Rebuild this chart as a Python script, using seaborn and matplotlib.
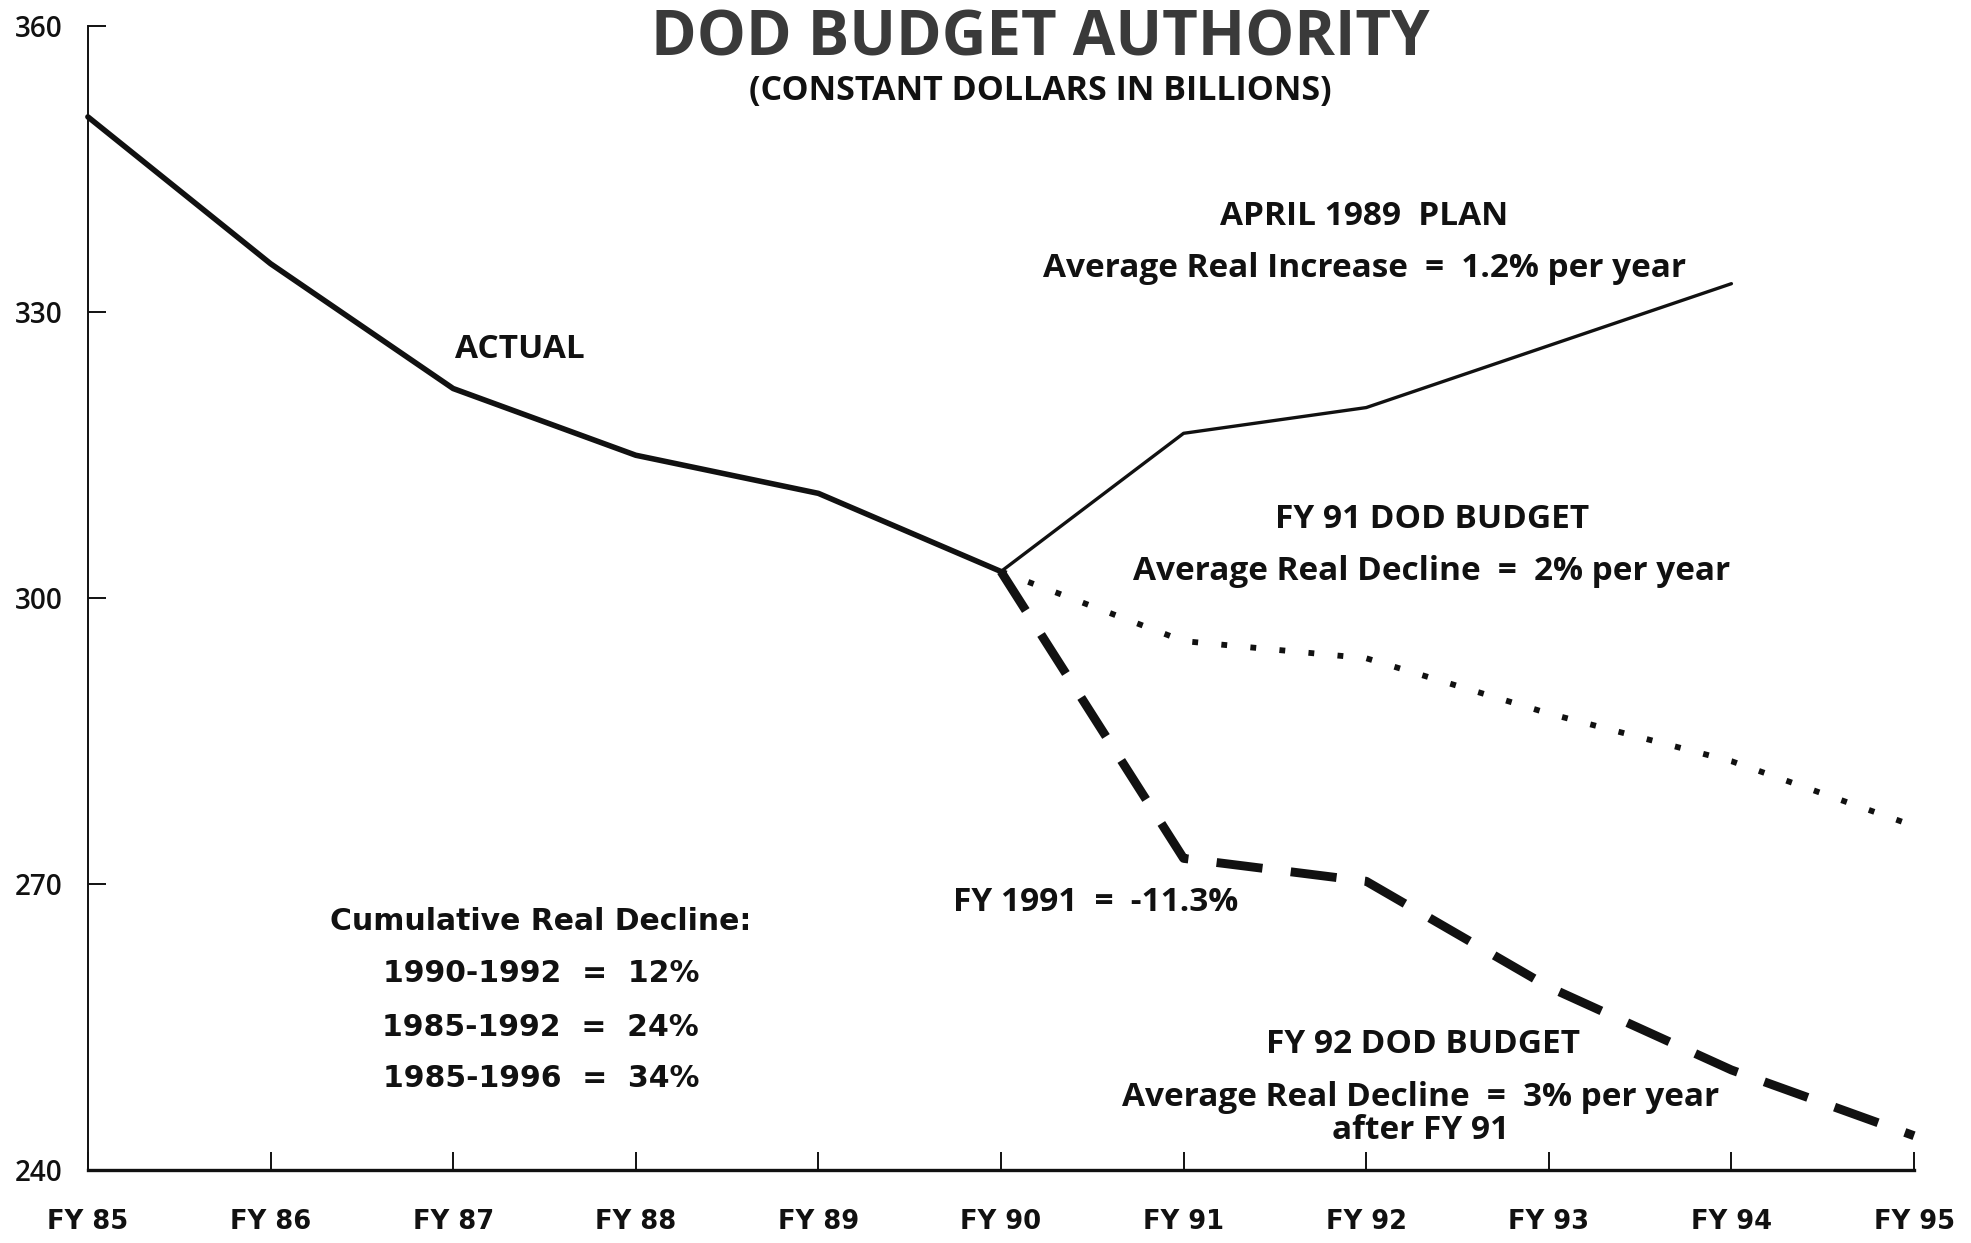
import seaborn as sns
import pandas as pd
import numpy as np
import matplotlib.pyplot as plt

# fiscal years on the x axis
years = [85, 86, 87, 88, 89, 90, 91, 92, 93, 94, 95]
year_labels = ['FY 85', 'FY 86', 'FY 87', 'FY 88', 'FY 89', 'FY 90',
               'FY 91', 'FY 92', 'FY 93', 'FY 94', 'FY 95']
y_ticks = [240, 270, 300, 330, 360]

# budget authority, constant dollars in billions
actual_years = [85, 86, 87, 88, 89, 90]
actual = [350.5, 335.1, 322.0, 315.0, 311.0, 302.8]
plan_years = [90, 91, 92, 93, 94]
plan_1989 = [302.8, 317.3, 320.0, 326.5, 333.0]
budget_years = [90, 91, 92, 93, 94, 95]
fy91_budget = [302.8, 295.5, 293.7, 287.9, 282.9, 276.1]
fy92_budget = [302.8, 272.7, 270.3, 259.2, 250.5, 243.6]

sns.set_style('ticks')
plt.rcParams['font.family'] = ['Open Sans', 'DejaVu Sans']

fig = plt.figure(figsize=(19.71, 12.43), dpi=100)
ax = fig.add_axes([0.0446, 0.0587, 0.9265, 0.9201])

ink = '#111111'
sns.lineplot(x=actual_years, y=actual, color=ink, linewidth=4.0, ax=ax, clip_on=False)
sns.lineplot(x=plan_years, y=plan_1989, color=ink, linewidth=2.4, ax=ax, clip_on=False)
sns.lineplot(x=budget_years, y=fy91_budget, color=ink, linewidth=4.2,
             linestyle=(0, (1.0, 4.0)), ax=ax, clip_on=False)
sns.lineplot(x=budget_years, y=fy92_budget, color=ink, linewidth=6.4,
             linestyle=(0, (5.2, 3.2)), ax=ax, clip_on=False)

ax.set_xlim(85, 95)
ax.set_ylim(240, 360)
ax.set_xticks(years)
ax.set_xticklabels(year_labels)
ax.set_yticks(y_ticks)
ax.set_xlabel('')
ax.set_ylabel('')
sns.despine(ax=ax)
ax.spines['left'].set_linewidth(1.4)
ax.spines['bottom'].set_linewidth(2.4)
ax.spines['left'].set_color(ink)
ax.spines['bottom'].set_color(ink)
ax.tick_params(axis='both', direction='in', length=13, width=1.4, colors=ink)
ax.tick_params(axis='y', pad=18)
ax.tick_params(axis='x', pad=28)
for lab in ax.get_xticklabels():
    lab.set_fontfamily('DejaVu Sans')
    lab.set_fontweight('bold')
    lab.set_fontsize(18.5)
for lab in ax.get_yticklabels():
    lab.set_fontfamily('Open Sans')
    lab.set_fontweight('semibold')
    lab.set_fontsize(20)

# title
fig.text(0.528, 0.969, 'DOD BUDGET AUTHORITY', ha='center', va='center',
         fontsize=44.5, fontweight='bold', color='#3a3a3a')
fig.text(0.528, 0.927, '(CONSTANT DOLLARS IN BILLIONS)', ha='center', va='center',
         fontsize=24.5, fontweight='bold', color=ink)

lab_kw = dict(fontsize=24, fontweight='bold', color=ink, va='center')
ax.text(87.01, 326.1, 'ACTUAL', ha='left', **lab_kw)
ax.text(91.99, 340.1, 'APRIL 1989  PLAN', ha='center', **lab_kw)
ax.text(91.99, 334.55, 'Average Real Increase  =  1.2% per year', ha='center', **lab_kw)
ax.text(92.36, 308.3, 'FY 91 DOD BUDGET', ha='center', **lab_kw)
ax.text(92.36, 302.8, 'Average Real Decline  =  2% per year', ha='center', **lab_kw)
ax.text(89.74, 268.1, 'FY 1991  =  -11.3%', ha='left', **lab_kw)
ax.text(92.31, 253.2, 'FY 92 DOD BUDGET', ha='center', **lab_kw)
ax.text(92.30, 247.6, 'Average Real Decline  =  3% per year', ha='center', **lab_kw)
ax.text(92.30, 244.1, 'after FY 91', ha='center', **lab_kw)

cum_kw = dict(fontsize=21.5, fontweight='bold', color=ink, va='center', ha='center',
              family='DejaVu Sans')
ax.text(87.48, 266.1, 'Cumulative Real Decline:', **cum_kw)
ax.text(87.48, 260.6, '1990-1992  =  12%', **cum_kw)
ax.text(87.48, 255.0, '1985-1992  =  24%', **cum_kw)
ax.text(87.48, 249.6, '1985-1996  =  34%', **cum_kw)

fig.savefig('out.png', dpi=100)
